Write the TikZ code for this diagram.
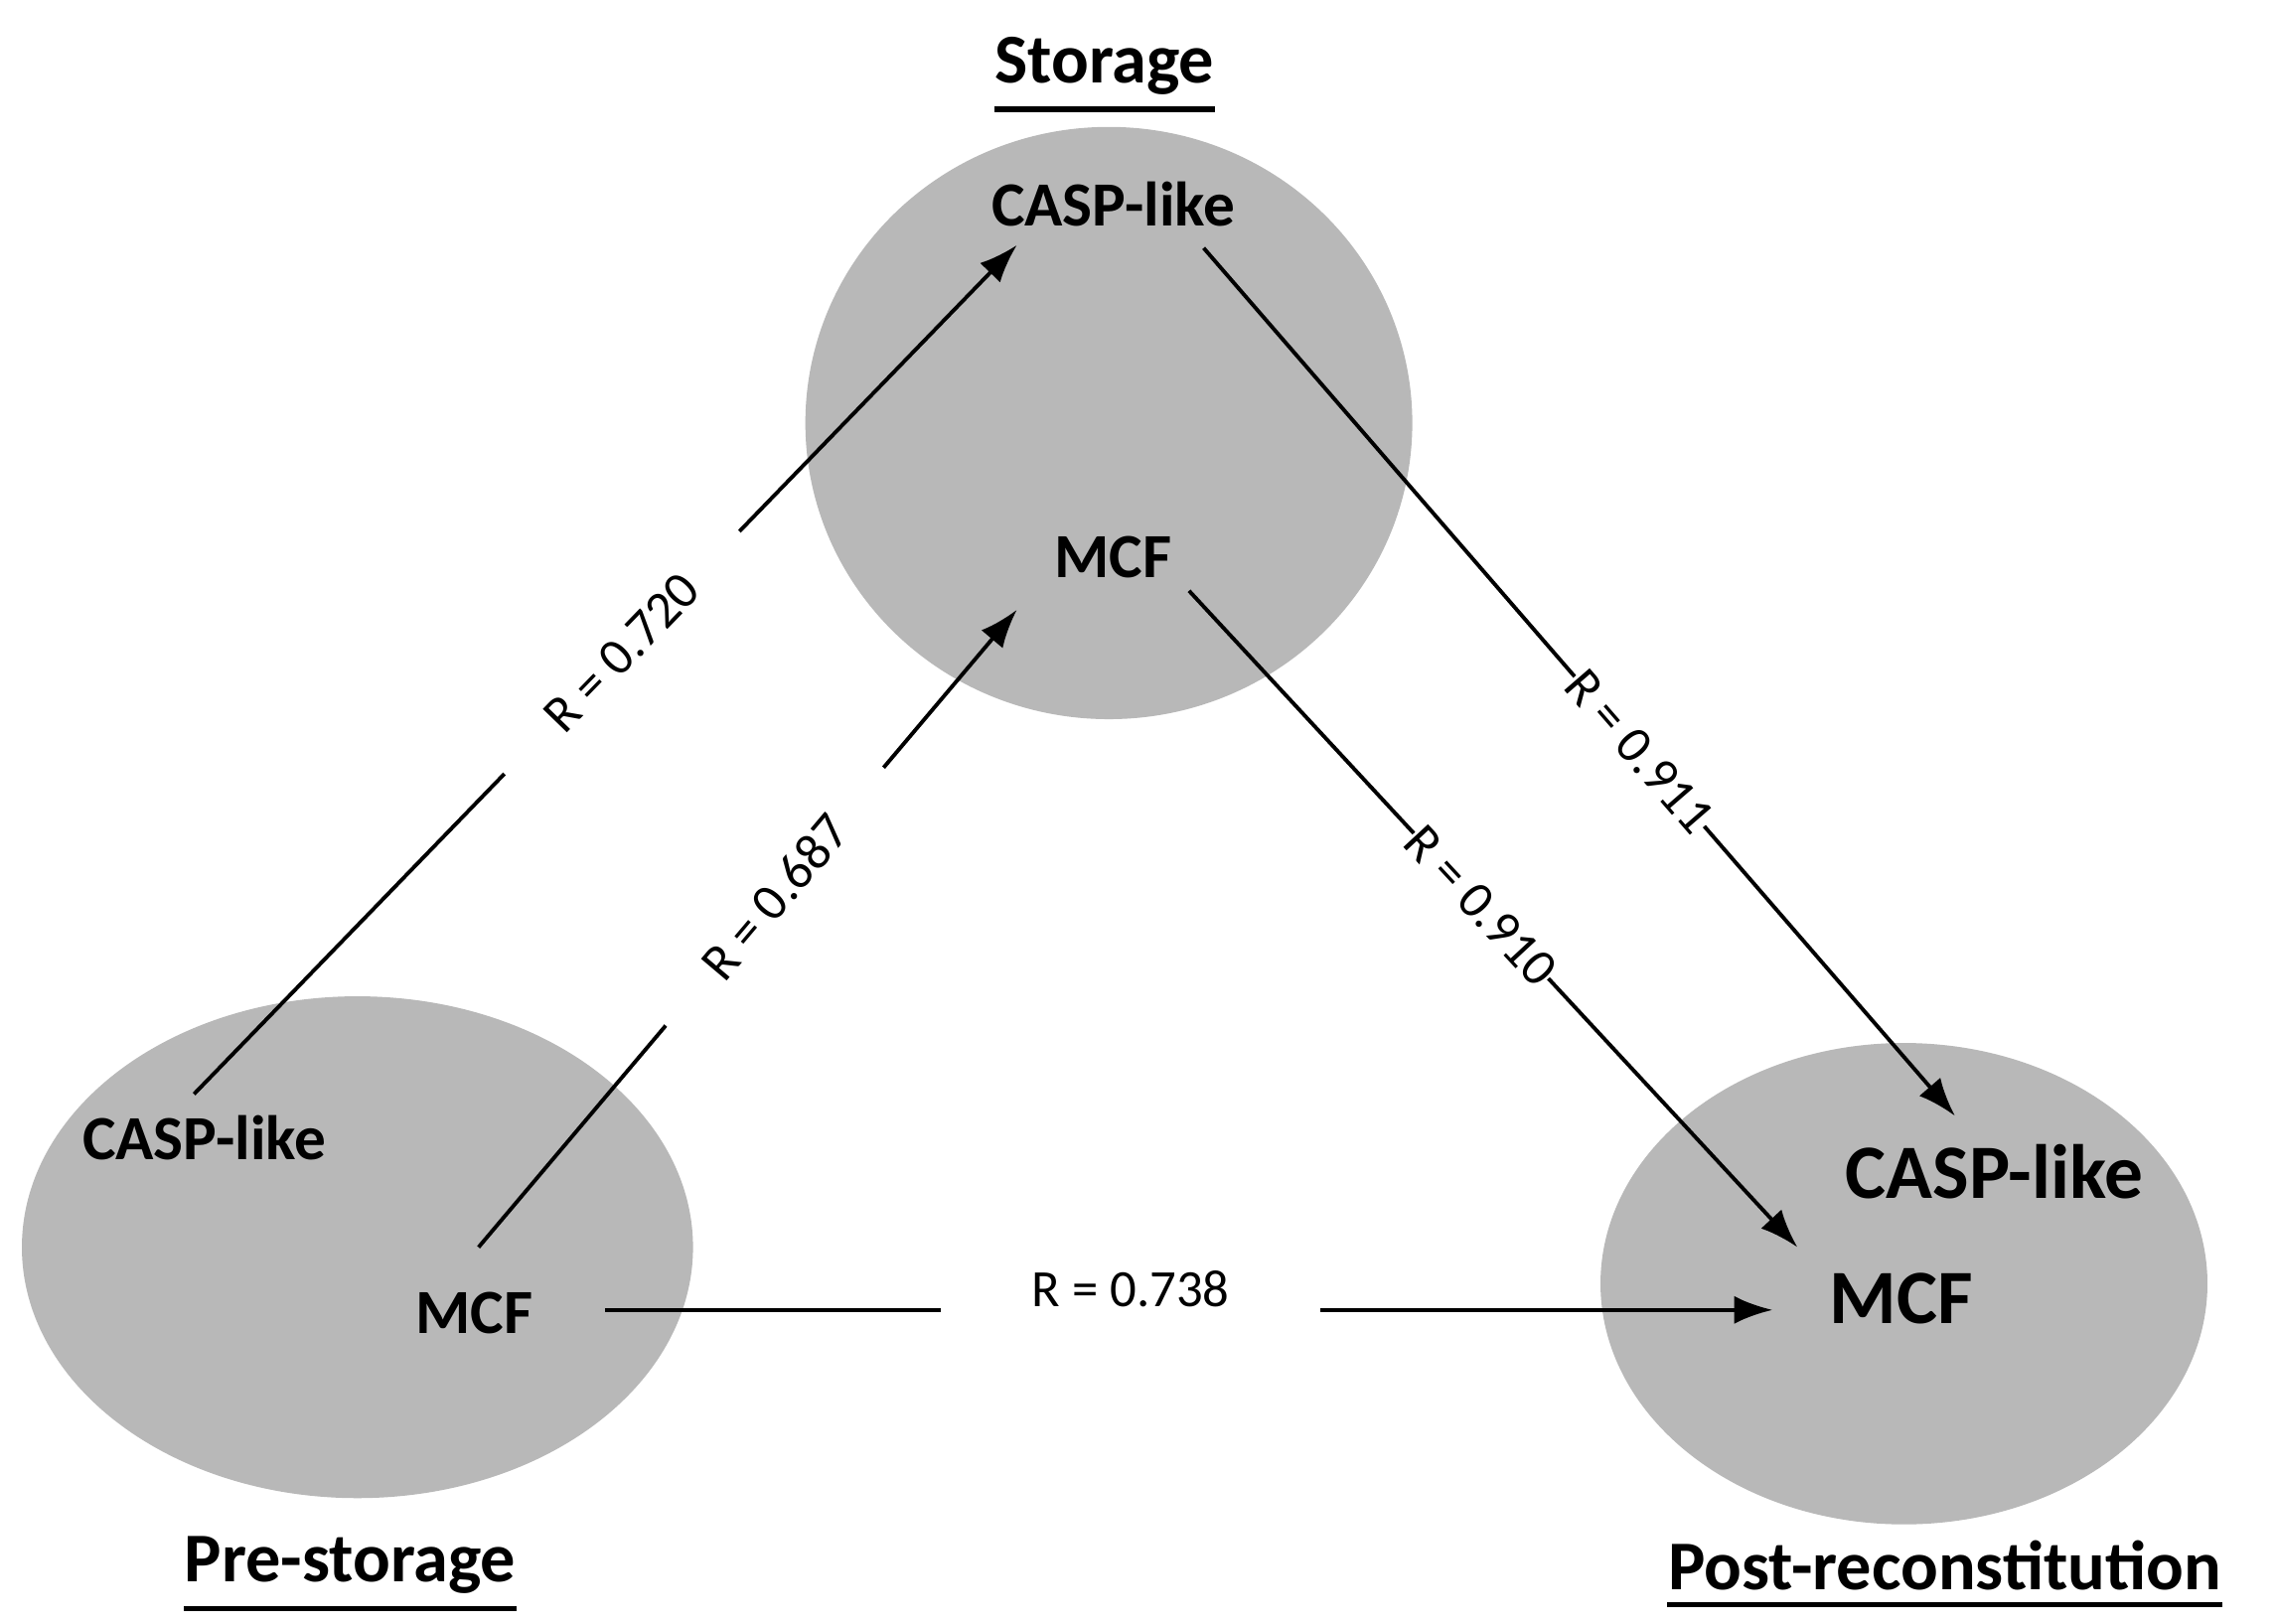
\documentclass[tikz,border=0pt]{standalone}
\usepackage{fontspec}
\setmainfont{Carlito}
\usetikzlibrary{arrows.meta}
\newcommand{\ul}[1]{\underline{#1}}
\begin{document}
\begin{tikzpicture}[x=0.014686cm,y=-0.014686cm,
  blob/.style={fill=black!28,draw=none},
  lbl/.style={font=\bfseries\fontsize{18}{20}\selectfont,inner sep=0pt},
  ttl/.style={font=\bfseries\fontsize{20}{22}\selectfont,inner sep=0pt},
  rl/.style={font=\fontsize{15}{17}\selectfont,sloped,fill=white,inner xsep=12pt,inner ysep=2pt},
  arr/.style={line width=1.1pt,-{Latex[length=11pt,width=8pt]}}]
\useasboundingbox (0,0) rectangle (1560,1113);
\fill[white] (0,0) rectangle (1560,1113);
\fill[blob] (760,290) ellipse [x radius=208, y radius=203];
\fill[blob] (245,855) ellipse [x radius=230, y radius=172];
\fill[blob] (1305,880) ellipse [x radius=208, y radius=165];
\node[ttl] (t1) at (757,45) {Storage};
\node[ttl] (t2) at (240,1073) {Pre-storage};
\node[ttl] (t3) at (1333,1073) {Post-reconstitution};
\foreach \t in {t1,t2,t3} \draw[line width=1.6pt] ([yshift=-4pt]\t.south west) -- ([yshift=-4pt]\t.south east);
\node[lbl] (sc) at (763,140) {CASP-like};
\node[lbl] (sm) at (763,382) {MCF};
\node[lbl] (pc) at (140,780) {CASP-like};
\node[lbl] (pm) at (325,900) {MCF};
\node[lbl,font=\bfseries\fontsize{22}{24}\selectfont] (qc) at (1367,803) {CASP-like};
\node[lbl,font=\bfseries\fontsize{22}{24}\selectfont] (qm) at (1303,890) {MCF};
\coordinate (a1s) at (133,750); \coordinate (a1e) at (697,168);
\coordinate (a2s) at (328,855); \coordinate (a2e) at (697,418);
\coordinate (a3s) at (825,170); \coordinate (a3e) at (1340,765);
\coordinate (a4s) at (815,405); \coordinate (a4e) at (1232,855);
\coordinate (a5s) at (415,898); \coordinate (a5e) at (1215,898);
\draw[arr] (a1s) -- node[rl,inner xsep=20pt,pos=0.52] {R = 0.720} (a1e);
\draw[arr] (a2s) -- node[rl,inner xsep=20pt,pos=0.55] {R = 0.687} (a2e);
\draw[arr] (a3s) -- node[rl,inner xsep=0pt,pos=0.58] {R = 0.911} (a3e);
\draw[arr] (a4s) -- node[rl,inner xsep=0pt,pos=0.48] {R = 0.910} (a4e);
\draw[arr] (a5s) -- node[font=\fontsize{15}{17}\selectfont,fill=white,inner xsep=26pt,yshift=6pt,pos=0.45] {R = 0.738} (a5e);
\end{tikzpicture}
\end{document}
